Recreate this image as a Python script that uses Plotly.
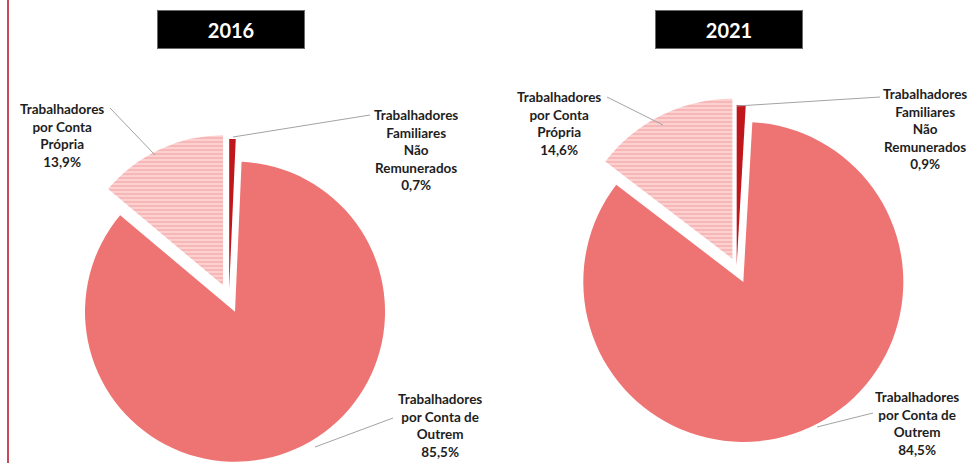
import plotly.graph_objects as go

# ---- data ----
years = ["2016", "2021"]
categories = [
    "Trabalhadores Familiares Não Remunerados",
    "Trabalhadores por Conta de Outrem",
    "Trabalhadores por Conta Própria",
]
label_lines = [
    "Trabalhadores<br>Familiares<br>Não<br>Remunerados",
    "Trabalhadores<br>por Conta de<br>Outrem",
    "Trabalhadores<br>por Conta<br>Própria",
]
share_2016 = [0.7, 85.5, 13.9]
share_2021 = [0.9, 84.5, 14.6]
shares = [share_2016, share_2021]

# ---- styling ----
W, H = 969, 463
slice_colors = ["#C0171D", "#EE7373", "#FBD0D0"]
pattern_shapes = ["", "", "-"]
pattern_fg = ["#C0171D", "#EE7373", "#F39E9E"]
pulls = [[0.06, 0.10, 0.093], [0.015, 0.10, 0.06]]
domains = [
    dict(x=[0.03, 0.4426], y=[0.0, 0.7128]),
    dict(x=[0.5602, 0.9602], y=[0.0424, 0.8027]),
]
title_centers = [(230.5, 29), (729, 29)]
label_centers = [
    [(416, 150), (440, 425), (62, 135)],
    [(925, 129), (917, 423), (559, 123)],
]
leader_lines = [
    [((233, 137), (370, 115)), ((315, 447), (393, 418)), ((110, 108), (155, 155))],
    [((737, 106), (880, 97)), ((817, 427), (873, 413)), ((607, 97), (663, 125))],
]


def px(x):
    return x / W


def py(y):
    return 1 - y / H


def fmt(v):
    return f"{v:.1f}".replace(".", ",") + "%"


fig = go.Figure()
for i, yr in enumerate(years):
    fig.add_trace(go.Pie(
        labels=categories,
        values=shares[i],
        sort=False,
        direction="clockwise",
        rotation=0,
        pull=pulls[i],
        textinfo="none",
        hoverinfo="label+percent",
        domain=domains[i],
        marker=dict(
            colors=slice_colors,
            line=dict(width=0),
            pattern=dict(shape=pattern_shapes, fgcolor=pattern_fg,
                         fillmode="overlay", size=4, solidity=0.5),
        ),
        showlegend=False,
    ))

annotations = []
shapes = []
for i, yr in enumerate(years):
    cx, cy = title_centers[i]
    annotations.append(dict(
        x=px(cx), y=py(cy), xref="paper", yref="paper",
        text=yr, showarrow=False,
        font=dict(family="Lato", size=20, color="white", weight="bold"),
        bgcolor="#000000", bordercolor="#6a6a6a", borderwidth=1, borderpad=0,
        width=146, height=37, xanchor="center", yanchor="middle",
    ))
    for j, cat in enumerate(categories):
        lx, ly = label_centers[i][j]
        annotations.append(dict(
            x=px(lx), y=py(ly), xref="paper", yref="paper",
            text=label_lines[j] + "<br>" + fmt(shares[i][j]),
            showarrow=False, align="center",
            xanchor="center", yanchor="middle",
            font=dict(family="Lato", size=13.5, color="#1e1e1e", weight="bold"),
        ))
        (x0, y0), (x1, y1) = leader_lines[i][j]
        shapes.append(dict(
            type="line", xref="paper", yref="paper",
            x0=px(x0), y0=py(y0), x1=px(x1), y1=py(y1),
            line=dict(color="#A3A3A3", width=1),
        ))

# thin red frame line at the left edge
shapes.append(dict(type="line", xref="paper", yref="paper",
                   x0=px(8), y0=0, x1=px(8), y1=1,
                   line=dict(color="#C84A5A", width=2)))

fig.update_layout(
    width=W, height=H,
    margin=dict(l=0, r=0, t=0, b=0),
    paper_bgcolor="white", plot_bgcolor="white",
    annotations=annotations, shapes=shapes,
)

fig.write_html(
    "out.html",
    config={"displayModeBar": False},
    post_script="document.body.style.margin='0';document.body.style.overflow='hidden';",
)
